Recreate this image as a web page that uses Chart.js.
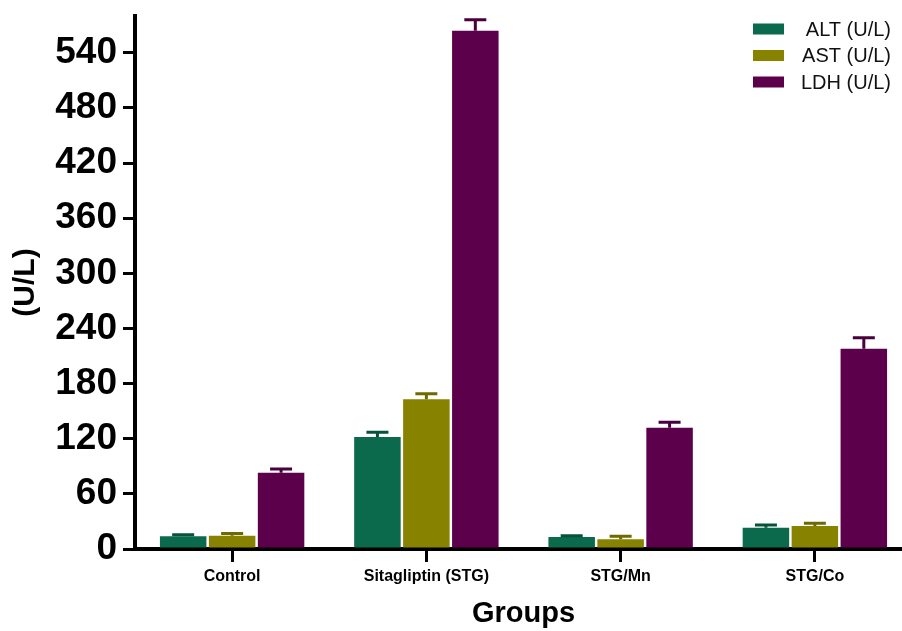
<!DOCTYPE html>
<html>
<head>
<meta charset="utf-8">
<script src="https://cdn.jsdelivr.net/npm/chart.js@4.4.1/dist/chart.umd.min.js"></script>
<style>
  html, body { margin: 0; padding: 0; background: #fff; overflow: hidden; }
  #wrap { position: absolute; left: 0; top: 0; width: 914px; height: 631px; }
</style>
</head>
<body>
<div id="wrap"><canvas id="myChart"></canvas></div>
<script>
const groups = ['Control', 'Sitagliptin (STG)', 'STG/Mn', 'STG/Co'];

const alt = [14, 122, 13, 23];
const altErr = [1.5, 5, 1.5, 3];
const ast = [14.5, 163, 10.5, 25];
const astErr = [2.5, 6, 3.5, 3];
const ldh = [83, 564, 132, 218];
const ldhErr = [4, 12, 6, 12];

const yTicks = [0, 60, 120, 180, 240, 300, 360, 420, 480, 540];

const FONT = "'Liberation Sans', Arial, sans-serif";

// upper error bars (mean + SEM) with a short cap
const errorBars = {
    id: 'errorBars',
    afterDatasetsDraw(chart) {
        const ctx = chart.ctx;
        const y = chart.scales.y;
        chart.data.datasets.forEach((ds, i) => {
            const meta = chart.getDatasetMeta(i);
            meta.data.forEach((bar, j) => {
                const top = y.getPixelForValue(ds.data[j] + ds.errors[j]);
                ctx.save();
                ctx.strokeStyle = ds.errColor;
                ctx.lineWidth = 3;
                ctx.beginPath();
                ctx.moveTo(bar.x, bar.y);
                ctx.lineTo(bar.x, top);
                ctx.moveTo(bar.x - 11, top);
                ctx.lineTo(bar.x + 11, top);
                ctx.stroke();
                ctx.restore();
            });
        });
    }
};

// legend box in the top right corner
const cornerLegend = {
    id: 'cornerLegend',
    afterDraw(chart) {
        const ctx = chart.ctx;
        ctx.save();
        ctx.font = '20px ' + FONT;
        ctx.textAlign = 'right';
        ctx.textBaseline = 'middle';
        chart.data.datasets.forEach((ds, i) => {
            const cy = 29 + i * 26.5;
            ctx.fillStyle = ds.backgroundColor;
            ctx.fillRect(753, cy - 5.5, 31, 11);
            ctx.fillStyle = '#111';
            ctx.fillText(ds.label, 891, cy + 1);
        });
        ctx.restore();
    }
};

new Chart(document.getElementById('myChart'), {
    type: 'bar',
    data: {
        labels: groups,
        datasets: [
            { label: 'ALT (U/L)', data: alt, errors: altErr, backgroundColor: '#0b6a4b', errColor: '#08523a' },
            { label: 'AST (U/L)', data: ast, errors: astErr, backgroundColor: '#878200', errColor: '#6f6a00' },
            { label: 'LDH (U/L)', data: ldh, errors: ldhErr, backgroundColor: '#5d004c', errColor: '#4a003c' }
        ]
    },
    options: {
        responsive: true,
        maintainAspectRatio: false,
        animation: false,
        categoryPercentage: 0.756,
        barPercentage: 0.95,
        layout: { padding: { top: 16, right: 2, left: 0, bottom: 0 } },
        plugins: {
            legend: { display: false },
            tooltip: { enabled: false }
        },
        scales: {
            x: {
                grid: { display: true, offset: false, drawOnChartArea: false, color: '#000', lineWidth: 3, tickLength: 13 },
                border: { display: true, color: '#000', width: 4 },
                ticks: { color: '#000', padding: 5, font: { family: FONT, size: 16, weight: 'bold' } },
                title: { display: true, text: 'Groups', color: '#000', padding: 0, font: { family: FONT, size: 29, weight: 'bold' } },
                afterFit(scale) {
                    scale.height = 82;
                    scale.paddingLeft = 0;
                    scale.paddingRight = 0;
                }
            },
            y: {
                min: 0,
                max: 580,
                afterBuildTicks(axis) {
                    axis.ticks = yTicks.map(v => ({ value: v }));
                },
                grid: { display: true, drawOnChartArea: false, color: '#000', lineWidth: 3, tickLength: 12 },
                border: { display: true, color: '#000', width: 4 },
                ticks: { color: '#000', padding: 6, font: { family: FONT, size: 37, weight: 'bold' } },
                title: { display: true, text: '(U/L)', color: '#000', padding: { top: 8, bottom: 0 }, font: { family: FONT, size: 30, weight: 'bold' } },
                afterFit(scale) {
                    scale.width = 135;
                    scale.paddingTop = 0;
                    scale.paddingBottom = 0;
                }
            }
        }
    },
    plugins: [errorBars, cornerLegend]
});
</script>
</body>
</html>
